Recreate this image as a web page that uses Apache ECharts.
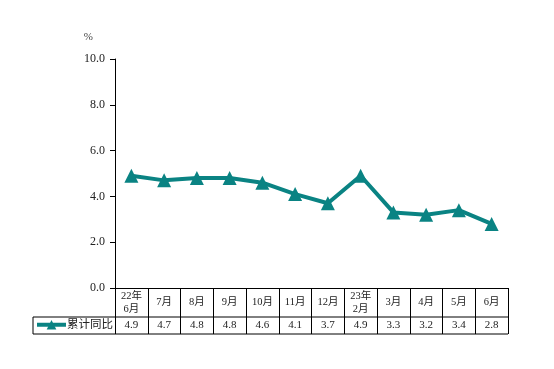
<!DOCTYPE html>
<html>
<head>
<meta charset="utf-8">
<script src="https://cdn.jsdelivr.net/npm/echarts@6/dist/echarts.min.js"></script>
<style>html,body{margin:0;padding:0;background:#fff}#c{width:554px;height:369px}</style>
</head>
<body>
<div id="c"></div>
<script>
var categories = ['22年\n6月','7月','8月','9月','10月','11月','12月','23年\n2月','3月','4月','5月','6月'];
var seriesName = '累计同比';
var values = [4.9,4.7,4.8,4.8,4.6,4.1,3.7,4.9,3.3,3.2,3.4,2.8];
var yTicks = [0,2,4,6,8,10];

var FONT = '"Liberation Serif","Noto Sans CJK SC",serif';
var TEAL = '#0a8383';
var chart = echarts.init(document.getElementById('c'));
var L = 115, R = 508, T = 59, B = 288, ROW1 = 317, ROW2 = 334, LEG = 33;
chart.setOption({
  animation: false,
  textStyle: {fontFamily: FONT},
  grid: {left: L, right: 554 - R, top: T, bottom: 369 - B, containLabel: false},
  legend: {
    data: [seriesName], left: LEG + 2, top: ROW1 + 2, itemWidth: 29, itemHeight: 12, itemGap: 2,
    lineStyle: {width: 4},
    textStyle: {fontFamily: FONT, fontSize: 11.5, color: '#222', padding: [0, 0, 0, -4]}, padding: 0
  },
  xAxis: [{
    type: 'category', data: categories, boundaryGap: true,
    axisLine: {lineStyle: {color: '#000', width: 1}},
    axisTick: {show: true, interval: 0, length: ROW2 - B, lineStyle: {color: '#000'}},
    axisLabel: {interval: 0, margin: 14.5, verticalAlign: 'middle', fontFamily: FONT, fontSize: 10.5, color: '#222', lineHeight: 13}
  }, {
    type: 'category', data: values.map(function (v) { return v.toFixed(1); }), position: 'bottom',
    axisLine: {show: false}, axisTick: {show: false},
    axisLabel: {interval: 0, margin: 37.5, verticalAlign: 'middle', fontFamily: FONT, fontSize: 11, color: '#222'}
  }],
  yAxis: {
    type: 'value', min: yTicks[0], max: yTicks[yTicks.length - 1], interval: 2,
    name: '%', nameLocation: 'end', nameGap: 16,
    nameTextStyle: {fontFamily: FONT, fontSize: 11, color: '#444', align: 'right', padding: [0, 22, 0, 0]},
    axisLine: {show: true, lineStyle: {color: '#000'}},
    axisTick: {show: true, length: 5, lineStyle: {color: '#000'}},
    splitLine: {show: false},
    axisLabel: {margin: 10, fontFamily: FONT, fontSize: 12, color: '#222', formatter: function (v) { return v.toFixed(1); }}
  },
  series: [{
    name: seriesName, type: 'line', data: values, xAxisIndex: 0,
    symbol: 'triangle', symbolSize: 14,
    lineStyle: {color: TEAL, width: 4},
    itemStyle: {color: TEAL}
  }],
  graphic: [
    {type: 'line', shape: {x1: LEG, y1: ROW1, x2: R, y2: ROW1}, style: {stroke: '#000', lineWidth: 1}},
    {type: 'line', shape: {x1: LEG, y1: ROW2, x2: R, y2: ROW2}, style: {stroke: '#000', lineWidth: 1}},
    {type: 'line', shape: {x1: LEG, y1: ROW1, x2: LEG, y2: ROW2}, style: {stroke: '#000', lineWidth: 1}}
  ]
});
</script>
</body>
</html>
